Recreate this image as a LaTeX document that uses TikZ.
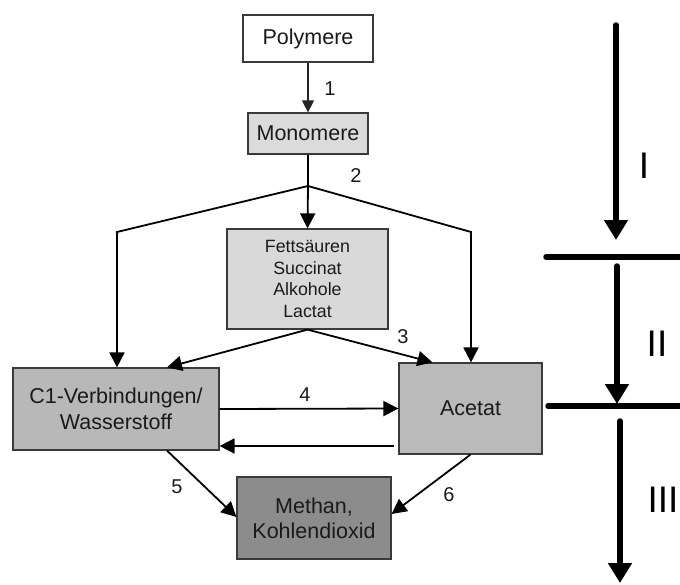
\documentclass[tikz,border=0pt]{standalone}
\usepackage{fontspec}
\setmainfont{Liberation Sans}
\usetikzlibrary{arrows.meta,calc}
\definecolor{txt}{HTML}{1A1A1A}
\definecolor{bord}{HTML}{3A3A3A}
\tikzset{
  box/.style={draw=bord,line width=1.2pt,inner sep=0pt,align=center,text=txt,font=\fontsize{21.5}{26}\selectfont},
  arr/.style={line width=1.8pt,-{Triangle[length=15pt,width=15pt]}},
  thinarr/.style={line width=1.1pt,draw=black!85,-{Triangle[length=12pt,width=12pt]}},
  ln/.style={line width=1.8pt},
  num/.style={text=txt,font=\fontsize{20}{22}\selectfont,inner sep=0pt},
  roman/.style={text=black,font=\fontsize{37}{40}\selectfont,inner sep=0pt},
  big/.style={line width=5.5pt,line cap=round,-{Triangle[length=20pt,width=23pt]}},
  bigln/.style={line width=5.5pt,line cap=round}
}
\begin{document}
\begin{tikzpicture}[x=1pt,y=-1pt]
\useasboundingbox (0,0) rectangle (680,584);
% boxes
\node[box,fill=white,minimum width=130pt,minimum height=47pt] (poly) at (308,38.5) {Polymere};
\node[box,fill=black!14,minimum width=120pt,minimum height=41pt] (mono) at (308,133.5) {Monomere};
\node[box,fill=black!15,minimum width=161pt,minimum height=100pt,font=\fontsize{17.8}{21.7}\selectfont] (fett) at (307.5,279) {Fettsäuren\\Succinat\\Alkohole\\Lactat};
\node[box,fill=black!28,minimum width=206pt,minimum height=82pt] (c1) at (116,409) {C1-Verbindungen/\\Wasserstoff};
\node[box,fill=black!27,minimum width=143pt,minimum height=91pt] (acet) at (470.5,408.5) {Acetat};
\node[box,fill=black!45,minimum width=154pt,minimum height=82pt,font=\fontsize{21.5}{25}\selectfont] (meth) at (314,518) {Methan,\\Kohlendioxid};
% junction coordinates
\coordinate (j) at (308,186);
\coordinate (lc) at (117,232);
\coordinate (rc) at (471,232);
% connectors
\draw[thinarr] (poly) -- (mono);
\draw[ln] (mono.south) -- (j);
\draw[arr] (j) -- (fett.north);
\draw[arr] (j) -- (lc) -- (lc |- c1.north);
\draw[arr] (j) -- (rc) -- (rc |- acet.north);
\draw[arr] (fett.south) -- ([xshift=51pt]c1.north);
\draw[arr] (fett.south) -- ([xshift=-38pt]acet.north);
\draw[arr] (c1.east) -- (acet.west);
\draw[arr] ([xshift=-4pt,yshift=-37.5pt]acet.west) -- ([yshift=-37pt]c1.east);
\draw[arr] ([xshift=51pt]c1.south) -- ([yshift=1pt]meth.west);
\draw[arr] (acet.south) -- ([yshift=4pt]meth.east);
% numbers
\node[num] (n1) at (330,89) {1};
\node[num] (n2) at (356,176) {2};
\node[num] (n3) at (403,337) {3};
\node[num] (n4) at (305,395) {4};
\node[num] (n5) at (177,487) {5};
\node[num] (n6) at (449,495) {6};
% phases
\coordinate (a1s) at (616,25);
\coordinate (a1e) at (616,240);
\coordinate (h1s) at (546,257);
\coordinate (h1e) at (683,257);
\coordinate (a2s) at (617,266);
\coordinate (a2e) at (617,404);
\coordinate (h2s) at (548,406);
\coordinate (h2e) at (683,406);
\coordinate (a3s) at (620,421);
\coordinate (a3e) at (620,583);
\draw[big] (a1s) -- (a1e);
\draw[bigln] (h1s) -- (h1e);
\draw[big] (a2s) -- (a2e);
\draw[bigln] (h2s) -- (h2e);
\draw[big] (a3s) -- (a3e);
\node[roman] (r1) at (644,166) {I};
\node[roman] (r2) at (657,344) {II};
\node[roman] (r3) at (663,500) {III};
\end{tikzpicture}
\end{document}
